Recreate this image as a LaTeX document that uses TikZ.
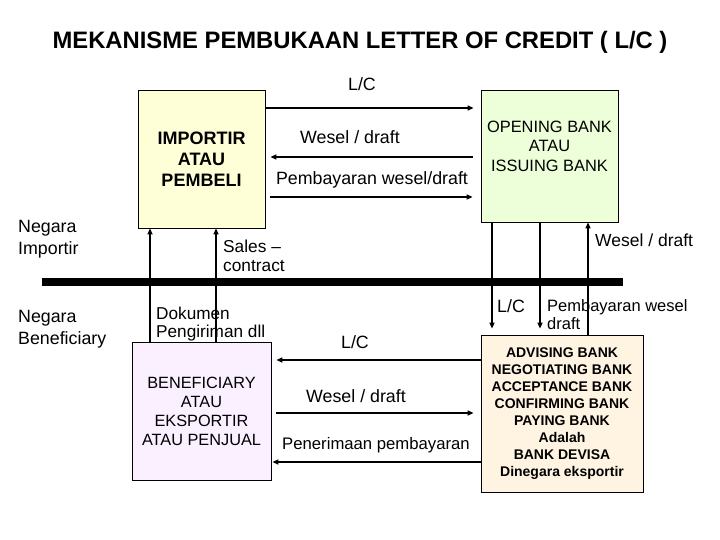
\documentclass[tikz,border=0pt]{standalone}
\usepackage{fontspec}
\setmainfont{Liberation Sans}
\usetikzlibrary{arrows.meta}

\definecolor{impfill}{RGB}{255,255,215}
\definecolor{openfill}{RGB}{236,255,216}
\definecolor{benfill}{RGB}{250,240,255}
\definecolor{advfill}{RGB}{255,244,226}

\begin{document}
\begin{tikzpicture}[x=1pt, y=-1pt,
    box/.style={draw, line width=0.8pt, align=center, inner sep=0pt},
    lbl/.style={font=\fontsize{17.8}{21}\selectfont, inner sep=0pt},
    arr/.style={line width=1.8pt, -{Triangle[length=6pt,width=5pt]}}]
    \useasboundingbox (0,0) rectangle (720,540);

    \node (title) at (360,42) [inner sep=0pt, font=\bfseries\fontsize{23.8}{28}\selectfont] {MEKANISME PEMBUKAAN LETTER OF CREDIT ( L/C )};

    \node (importir) at (201.5,159) [box, fill=impfill, minimum width=127pt, minimum height=138pt, font=\bfseries\fontsize{18}{21}\selectfont] {IMPORTIR\\ATAU\\PEMBELI};
    \node (opening) at (549.5,156) [box, fill=openfill, minimum width=137pt, minimum height=132pt, font=\fontsize{16.4}{19.5}\selectfont] {OPENING BANK\\ATAU\\ISSUING BANK\\~};
    \node (beneficiary) at (201.5,411) [box, fill=benfill, minimum width=139pt, minimum height=138pt, font=\fontsize{16.3}{19}\selectfont] {BENEFICIARY\\ATAU\\EKSPORTIR\\ATAU PENJUAL};
    \node (advising) at (562,413.5) [box, fill=advfill, minimum width=162pt, minimum height=157pt, font=\bfseries\fontsize{14}{17.1}\selectfont] {ADVISING BANK\\NEGOTIATING BANK\\ACCEPTANCE BANK\\CONFIRMING BANK\\PAYING BANK\\Adalah\\BANK DEVISA\\Dinegara eksportir};

    % garis batas negara
    \coordinate (sepL) at (42,282);
    \coordinate (sepR) at (623,282);
    \draw[line width=7.5pt] (sepL) -- (sepR);

    \node (importirside) at (18,239) [lbl, anchor=west, align=left, font=\fontsize{17.8}{22}\selectfont] {Negara\\Importir};
    \node (beneside) at (18,329) [lbl, anchor=west, align=left, font=\fontsize{17.8}{22}\selectfont] {Negara\\Beneficiary};

    % atas
    \draw[arr, shorten >=7pt] (importir.east |- 0,108) -- (opening.west |- 0,108);
    \draw[arr, shorten <=8pt, shorten >=5pt] (opening.west |- 0,157) -- (importir.east |- 0,157);
    \draw[arr, shorten <=5pt, shorten >=8pt] (importir.east |- 0,197) -- (opening.west |- 0,197);
    \node (lctop) at (362,84) [lbl] {L/C};
    \node (weseltop) at (350,137) [lbl] {Wesel / draft};
    \node (bayartop) at (372,180) [lbl] {Pembayaran wesel/draft};

    % kiri
    \draw[arr] (beneficiary.north -| 150,0) -- (importir.south -| 150,0);
    \draw[arr] (beneficiary.north -| 216,0) -- (importir.south -| 216,0);
    \node (sales) at (223,256) [lbl, anchor=west, align=left, font=\fontsize{17.3}{19}\selectfont] {Sales --\\contract};
    \node (dokumen) at (156,324) [lbl, anchor=west, align=left, font=\fontsize{17.2}{18}\selectfont] {Dokumen\\Pengiriman dll};

    % kanan
    \draw[arr, shorten >=6pt] (opening.south -| 492,0) -- (advising.north -| 492,0);
    \draw[arr, shorten >=6pt] (opening.south -| 540,0) -- (advising.north -| 540,0);
    \draw[arr] (advising.north -| 588,0) -- (opening.south -| 588,0);
    \node (lcright) at (511,306) [lbl] {L/C};
    \node (bayarright) at (547,315) [lbl, anchor=west, align=left, font=\fontsize{16.5}{18}\selectfont] {Pembayaran wesel\\draft};
    \node (weselright) at (595,240) [lbl, anchor=west, font=\fontsize{17.5}{20}\selectfont] {Wesel / draft};

    % bawah
    \draw[arr, shorten >=5pt] (advising.west |- 0,360) -- (beneficiary.east |- 0,360);
    \draw[arr, shorten <=5pt, shorten >=7pt] (beneficiary.east |- 0,413) -- (advising.west |- 0,413);
    \draw[arr, shorten >=1pt] (advising.west |- 0,462) -- (beneficiary.east |- 0,462);
    \node (lcbottom) at (355,342) [lbl] {L/C};
    \node (weselbottom) at (356,396) [lbl] {Wesel / draft};
    \node (terima) at (376,445) [lbl, font=\fontsize{16.7}{20}\selectfont] {Penerimaan pembayaran};
\end{tikzpicture}
\end{document}
